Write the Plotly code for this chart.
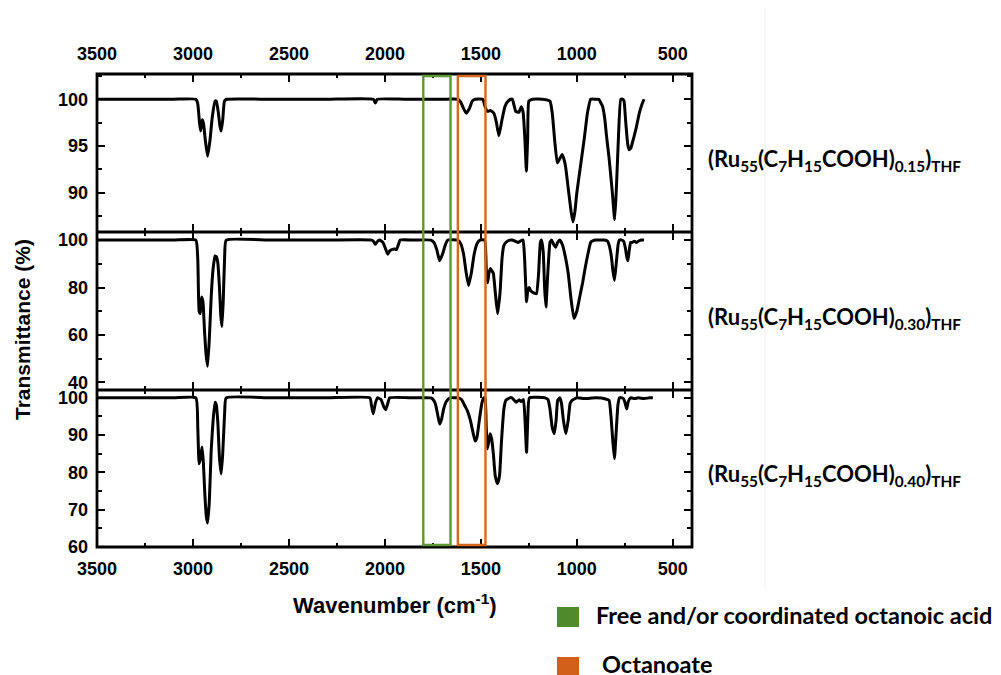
import plotly.graph_objects as go

# ---------------- data ----------------
wn_015 = [3500, 3300, 3100, 2985, 2975, 2966, 2960, 2952, 2945, 2935, 2924, 2912, 2900, 2885, 2878,
          2868, 2860, 2853, 2845, 2836, 2825, 2600, 2300, 2060, 2050, 2040, 1900, 1700, 1620, 1605,
          1590, 1576, 1560, 1545, 1530, 1490, 1478, 1465, 1450, 1432, 1420, 1406, 1390, 1375, 1362,
          1345, 1336, 1318, 1302, 1290, 1280, 1270, 1263, 1256, 1250, 1230, 1180, 1140, 1128, 1115,
          1102, 1090, 1076, 1066, 1058, 1045, 1030, 1020, 1010, 1000, 980, 960, 945, 928, 905,
          885, 875, 867, 855, 845, 832, 815, 803, 795, 785, 771, 760, 754, 745, 735,
          728, 718, 710, 702, 690, 675, 660, 650]
t_015 = [100, 100, 100, 100, 99.5, 97.5, 96.6, 97.8, 97.4, 95.5, 93.9, 95.5, 98.0, 99.8, 99.8,
         98.6, 97.2, 96.6, 97.8, 99.8, 100, 100, 100, 100, 99.6, 100, 100, 100, 100, 99.7,
         99.0, 98.5, 99.0, 99.8, 100, 100, 99.2, 98.7, 98.8, 98.5, 97.6, 96.1, 97.8, 99.2, 99.7,
         100, 100, 98.7, 98.6, 99.2, 98.6, 95.5, 92.3, 96.0, 99.8, 100, 100, 99.8, 98.5, 95.5,
         93.2, 93.6, 94.1, 93.5, 92.7, 90.5, 88.0, 86.9, 88.0, 90.0, 93.0, 96.0, 98.5, 100, 100,
         100, 99.6, 99.3, 98.0, 96.0, 93.7, 90.0, 87.1, 90.0, 95.0, 100, 100, 99.8, 97.5, 95.2,
         94.6, 94.8, 95.4, 96.0, 97.0, 98.5, 99.5, 100]

wn_030 = [3500, 3300, 3100, 2985, 2975, 2968, 2962, 2955, 2948, 2940, 2932, 2924, 2915, 2905, 2895,
          2885, 2878, 2870, 2862, 2855, 2849, 2842, 2835, 2827, 2600, 2300, 2070, 2060, 2050, 2040,
          2028, 2010, 1995, 1985, 1975, 1964, 1950, 1940, 1930, 1921, 1850, 1760, 1745, 1730, 1715,
          1700, 1685, 1672, 1620, 1605, 1590, 1578, 1564, 1550, 1535, 1520, 1505, 1480, 1472, 1465,
          1458, 1450, 1442, 1435, 1425, 1413, 1400, 1390, 1381, 1370, 1350, 1338, 1320, 1305, 1290,
          1280, 1272, 1262, 1255, 1248, 1240, 1230, 1220, 1210, 1200, 1190, 1184, 1175, 1168, 1161,
          1152, 1140, 1132, 1120, 1111, 1100, 1089, 1075, 1060, 1045, 1030, 1015, 1000, 985, 970,
          955, 940, 928, 915, 900, 885, 860, 840, 832, 820, 812, 804, 795, 785, 778,
          765, 756, 748, 740, 734, 728, 720, 713, 700, 690, 680, 665, 650]
t_030 = [100, 100, 100, 100, 92, 70, 69, 76, 74, 62, 52, 46.8, 58, 76, 88,
         93.3, 93, 90, 80, 68, 63.5, 75, 93, 100, 100, 100, 100, 99.5, 98.2, 99.3,
         100, 99, 96, 94, 95.5, 96, 96.2, 96, 98, 100, 100, 100, 99, 96, 91.3,
         94, 98, 100, 100, 98.5, 94, 87, 80.8, 86, 94, 98.5, 100, 100, 88, 82,
         86, 88, 87, 86, 78, 69, 78, 92, 97.5, 99, 100, 100, 99.5, 99, 99.8,
         100, 92, 74, 79, 80, 78.5, 78, 77.5, 77.4, 85, 99, 100, 95, 80, 71.8,
         85, 99, 100, 98, 97, 99, 100, 98, 93, 86, 75, 67, 70, 76, 82,
         89, 95, 99, 99.8, 100, 100, 100, 99.6, 98, 93, 87, 83, 90, 98, 100,
         100, 99.5, 97, 93, 91.3, 95, 99, 99, 99.5, 99, 99.5, 100, 100]

wn_040 = [3500, 3300, 3100, 2985, 2975, 2968, 2960, 2953, 2946, 2938, 2930, 2924, 2915, 2905, 2895,
          2885, 2878, 2870, 2862, 2853, 2845, 2835, 2827, 2600, 2300, 2078, 2070, 2061, 2050, 2039,
          2020, 2005, 1996, 1985, 1975, 1850, 1760, 1748, 1737, 1725, 1715, 1705, 1694, 1680, 1661,
          1620, 1600, 1585, 1570, 1555, 1540, 1530, 1520, 1508, 1495, 1485, 1478, 1472, 1466, 1458,
          1452, 1444, 1435, 1425, 1413, 1403, 1393, 1380, 1370, 1350, 1338, 1316, 1300, 1290, 1278,
          1270, 1262, 1255, 1247, 1165, 1150, 1140, 1128, 1117, 1108, 1100, 1089, 1080, 1070, 1057,
          1045, 1035, 1025, 1000, 960, 900, 850, 832, 822, 812, 804, 796, 786, 778, 765,
          756, 748, 740, 732, 720, 700, 680, 650, 620, 604]
t_040 = [100, 100, 100, 100, 92, 82.3, 84, 86.8, 82.8, 74, 68, 66.4, 72, 85.9, 94,
         98.8, 98, 93, 84, 79.6, 85, 96, 100, 100, 100, 100, 98, 95.7, 98.5, 100,
         99.5, 97.5, 96.8, 98.5, 100, 100, 100, 99.5, 98.4, 95.5, 93, 94.2, 97, 99, 100,
         100, 99.5, 98, 96.5, 94, 90.5, 88.4, 89.5, 94, 98.5, 100, 100, 92, 86.3, 88.5,
         90.4, 89, 85, 79, 77, 79, 88, 97, 99.3, 100, 100, 98.8, 99.5, 99, 99.5,
         94, 85.4, 95, 100, 100, 99.5, 97, 92, 90.4, 94, 99.3, 100, 98.5, 94, 90.4,
         94, 98.5, 99.3, 100, 99.8, 100, 99.7, 99.3, 95, 88, 83.7, 90, 98, 100, 100,
         99.7, 98.5, 97, 99, 100, 99.8, 100, 99.8, 100, 100]

sample_labels = ["(Ru<sub>55</sub>(C<sub>7</sub>H<sub>15</sub>COOH)<sub>0.15</sub>)<sub>THF</sub>",
                 "(Ru<sub>55</sub>(C<sub>7</sub>H<sub>15</sub>COOH)<sub>0.30</sub>)<sub>THF</sub>",
                 "(Ru<sub>55</sub>(C<sub>7</sub>H<sub>15</sub>COOH)<sub>0.40</sub>)<sub>THF</sub>"]

acid_band = [1800, 1658]       # free and/or coordinated octanoic acid region (cm-1)
octanoate_band = [1620, 1476]  # octanoate region (cm-1)
band_names = ["Free and/or coordinated octanoic acid", "Octanoate"]

x_ticks = [3500, 3000, 2500, 2000, 1500, 1000, 500]
y_ticks_top = [90, 95, 100]
y_ticks_mid = [40, 60, 80, 100]
y_ticks_bot = [60, 70, 80, 90, 100]

# ---------------- layout geometry (pixel positions in the 1001x675 view) ----------------
VIEW_W, VIEW_H = 1001, 675
OFF = 8                      # page body margin of the html page
L, R, T, B = 97, 692, 74, 547


def px_x(p):
    return (p - L) / (R - L)


def px_y(p):
    return (B - p) / (B - T)


GREEN = "#5f9636"
ORANGE = "#d4681e"
GREEN_SQ = "#4f8a2c"
ORANGE_SQ = "#d2601a"
FRAME_W = 2.8
tickfont = dict(family="Liberation Sans, Arial", size=18, color="black", weight="bold")

fig = go.Figure()
panels = [(wn_015, t_015), (wn_030, t_030), (wn_040, t_040)]
for i, (wn, tr) in enumerate(panels):
    sfx = "" if i == 0 else str(i + 1)
    fig.add_trace(go.Scatter(x=wn, y=tr, mode="lines", xaxis="x" + sfx, yaxis="y" + sfx,
                             line=dict(color="black", width=3, shape="spline", smoothing=0.4),
                             hoverinfo="skip", showlegend=False))

d1, d2 = px_y(390), px_y(232)
domains = [[d2, 1.0], [d1, d2], [0.0, d1]]
yranges = [[85.8, 102.7], [36.8, 103.4], [60, 102.1]]
yticks = [y_ticks_top, y_ticks_mid, y_ticks_bot]
ydt = [2.5, 10, 5]

axis_common = dict(showline=False, mirror="allticks",
                   ticks="inside", ticklen=8, tickwidth=2, tickcolor="black",
                   showgrid=False, zeroline=False, tickfont=tickfont)

layout_axes = {}
for i in range(3):
    sfx = "" if i == 0 else str(i + 1)
    xa = dict(axis_common, domain=[0, 1], anchor="y" + sfx, range=[3500, 400],
              tickvals=x_ticks, ticktext=[str(v) for v in x_ticks],
              minor=dict(ticks="inside", ticklen=4, tickwidth=2, tickcolor="black", dtick=250,
                         tick0=0, showgrid=False),
              ticklabelstandoff=9)
    if i == 0:
        xa.update(side="top", showticklabels=True)
    elif i == 1:
        xa.update(showticklabels=False)
    else:
        xa.update(side="bottom", showticklabels=True)
    ya = dict(axis_common, domain=domains[i], anchor="x" + sfx, range=yranges[i],
              tickvals=yticks[i], ticktext=[str(v) for v in yticks[i]],
              minor=dict(ticks="inside", ticklen=5, tickwidth=2, tickcolor="black", dtick=ydt[i],
                         tick0=0, showgrid=False),
              ticklabelstandoff=8)
    layout_axes["xaxis" + sfx] = xa
    layout_axes["yaxis" + sfx] = ya

fig.update_layout(**layout_axes)

shapes = []
# frame of the stacked panels
shapes.append(dict(type="rect", xref="paper", yref="paper", x0=0, x1=1, y0=0, y1=1,
                   line=dict(color="black", width=FRAME_W), fillcolor="rgba(0,0,0,0)",
                   layer="above"))
for yy in (d1, d2):
    shapes.append(dict(type="line", xref="paper", yref="paper", x0=0, x1=1, y0=yy, y1=yy,
                       line=dict(color="black", width=FRAME_W), layer="above"))
for band, col in [(acid_band, GREEN), (octanoate_band, ORANGE)]:
    shapes.append(dict(type="rect", xref="x3", yref="paper", x0=band[0], x1=band[1],
                       y0=px_y(545), y1=px_y(76), line=dict(color=col, width=2.4),
                       fillcolor="rgba(0,0,0,0)", layer="above"))
# faint separator line seen at right of the figure
shapes.append(dict(type="line", xref="paper", yref="paper", x0=px_x(765), x1=px_x(765),
                   y0=px_y(590), y1=px_y(OFF), line=dict(color="#f0f0f0", width=1)))
# legend squares
for ytop, ybot, col in [(607, 627, GREEN_SQ), (657, 675, ORANGE_SQ)]:
    shapes.append(dict(type="rect", xref="paper", yref="paper", x0=px_x(557), x1=px_x(579),
                       y0=px_y(ybot), y1=px_y(ytop), line=dict(width=0), fillcolor=col))

annotations = []
label_font = dict(family="Lato, Noto Sans", size=22, color="black", weight="bold")
for lab, yc in zip(sample_labels, [160, 318, 475]):
    annotations.append(dict(text=lab, xref="paper", yref="paper", x=px_x(706), y=px_y(yc),
                            xanchor="left", yanchor="middle", showarrow=False, font=label_font))
annotations.append(dict(text="Transmittance (%)", xref="paper", yref="paper", x=px_x(22),
                        y=px_y(330), textangle=-90, xanchor="center", yanchor="middle",
                        showarrow=False,
                        font=dict(family="Liberation Sans, Arial", size=21, color="black",
                                  weight="bold")))
annotations.append(dict(text="Wavenumber (cm<sup>-1</sup>)", xref="paper", yref="paper",
                        x=px_x(395), y=px_y(604), xanchor="center", yanchor="middle",
                        showarrow=False,
                        font=dict(family="Liberation Sans, Arial", size=22, color="black",
                                  weight="bold")))
legend_font = dict(family="Lato, Noto Sans", size=23.5, color="black", weight="bold")
annotations.append(dict(text=band_names[0], xref="paper", yref="paper", x=px_x(594),
                        y=px_y(615), xanchor="left", yanchor="middle", showarrow=False,
                        font=legend_font))
annotations.append(dict(text=band_names[1], xref="paper", yref="paper", x=px_x(600),
                        y=px_y(664), xanchor="left", yanchor="middle", showarrow=False,
                        font=legend_font))

fig.update_layout(width=VIEW_W - OFF, height=VIEW_H - OFF,
                  margin=dict(l=L - OFF, r=VIEW_W - R, t=T - OFF, b=VIEW_H - B),
                  plot_bgcolor="white", paper_bgcolor="white", showlegend=False,
                  shapes=shapes, annotations=annotations)

fig.write_html("out.html")
